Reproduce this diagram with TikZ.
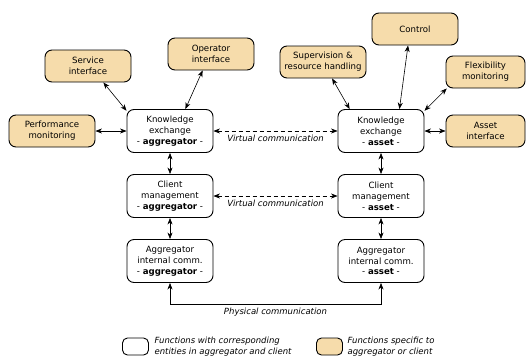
\documentclass[tikz,border=0pt]{standalone}
\usepackage{fontspec}
\setmainfont{DejaVu Sans}
\usepackage{tikz}
\usetikzlibrary{positioning, arrows.meta}
\definecolor{specfill}{RGB}{246,220,171}

\begin{document}
\begin{tikzpicture}[x=1pt,y=-1pt,<->,>={Stealth[length=6.5pt,width=5pt,inset=2pt]},semithick,node distance=65pt,font=\fontsize{8.6}{10.8}\selectfont]
\tikzstyle{func}=[draw=black,fill=white,rounded corners=7pt,align=center,minimum width=86pt,minimum height=43pt,inner sep=1pt,line width=0.9pt]
\tikzstyle{spec}=[func,fill=specfill,minimum height=32pt]
\tikzstyle{virt}=[dash pattern=on 4pt off 3pt]
\tikzstyle{lbl}=[font=\fontsize{8.5}{10.8}\selectfont\itshape,below,inner sep=3.5pt]
\useasboundingbox (0,0) rectangle (526,359);

\node[func] (keagg) at (170,131) {Knowledge\\exchange\\- \textbf{aggregator} -};
\node[func] (cmagg) [below of=keagg] {Client\\management\\- \textbf{aggregator} -};
\node[func] (icagg) [below of=cmagg] {Aggregator\\internal comm.\\- \textbf{aggregator} -};
\node[func] (keasset) [right of=keagg, node distance=211pt] {Knowledge\\exchange\\- \textbf{asset} -};
\node[func] (cmasset) [below of=keasset] {Client\\management\\- \textbf{asset} -};
\node[func] (icasset) [below of=cmasset] {Aggregator\\internal comm.\\- \textbf{asset} -};

\node[spec] (svc) at (88,66) {Service\\interface};
\node[spec] (oper) at (211,54) {Operator\\interface};
\node[spec] (perf) at (52,131) {Performance\\monitoring};
\node[spec] (superv) at (323,62) {Supervision \&\\resource handling};
\node[spec] (ctrl) at (415,29) {Control};
\node[spec, minimum width=79pt] (flex) at (485.5,72) {Flexibility\\monitoring};
\node[spec, minimum width=79pt] (assetif) at (485.5,131) {Asset\\interface};

\path
(svc.-47) edge (keagg.155)
(oper.243) edge (keagg.55)
(perf) edge (keagg)
(superv.-61) edge (keasset.145)
(ctrl.247) edge (keasset.50)
(flex.203) edge (keasset.25)
(keasset) edge (assetif)
(keagg) edge (cmagg)
(cmagg) edge (icagg)
(keasset) edge (cmasset)
(cmasset) edge (icasset);

\draw[virt] (keagg) -- (keasset) node[lbl, midway] {Virtual communication};
\draw[virt] (cmagg) -- (cmasset) node[lbl, midway] {Virtual communication};
\draw (icagg.south) -- ++(0,21) coordinate (phys) -- (phys -| icasset.south) node[lbl, midway] {Physical communication} -- (icasset.south);

% legend
\node[func, minimum width=26pt, minimum height=17pt, rounded corners=5pt] (legfunc) at (135.5,346.5) {};
\node[right=2pt of legfunc, align=left, font=\fontsize{8.5}{11.5}\selectfont\itshape] (legfunctxt) {Functions with corresponding\\entities in aggregator and client};
\node[spec, minimum width=26pt, minimum height=17pt, rounded corners=5pt] (legspec) at (329.5,346.5) {};
\node[right=1pt of legspec, align=left, font=\fontsize{8.5}{11.5}\selectfont\itshape] (legspectxt) {Functions specific to\\aggregator or client};
\end{tikzpicture}
\end{document}
